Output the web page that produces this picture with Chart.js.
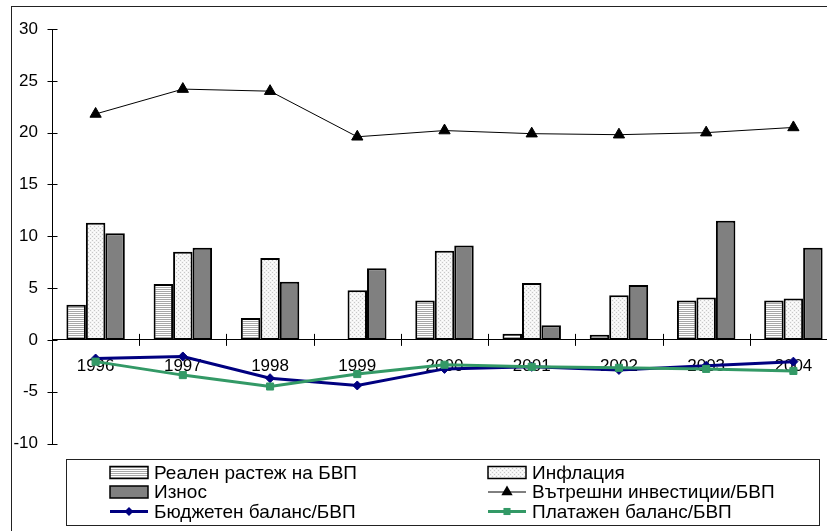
<!DOCTYPE html>
<html><head><meta charset="utf-8">
<script src="https://cdn.jsdelivr.net/npm/chart.js@4.4.0/dist/chart.umd.min.js"></script>
<style>
html,body{margin:0;padding:0;overflow:hidden;background:#fff;width:827px;height:531px;}
#wrap{position:relative;width:860px;height:531px;}
canvas{display:block;}
</style></head><body>
<div id="wrap"><canvas id="c" width="860" height="531"></canvas></div>
<script>
const years = ['1996','1997','1998','1999','2000','2001','2002','2003','2004'];
const realGrowth = [3.4, 5.4, 2.1, null, 3.8, 0.6, 0.5, 3.8, 3.8];
const inflation = [11.3, 8.5, 7.9, 4.8, 8.6, 5.5, 4.3, 4.1, 4.0];
const exportsShare = [10.3, 8.9, 5.6, 6.9, 9.1, 1.4, 5.3, 11.5, 8.9];
const investment = [21.8, 24.2, 24.0, 19.6, 20.2, 19.9, 19.8, 20.0, 20.5];
const budgetBalance = [-1.8, -1.6, -3.7, -4.4, -2.8, -2.6, -2.9, -2.5, -2.1];
const currentAccount = [-2.1, -3.4, -4.5, -3.3, -2.4, -2.6, -2.7, -2.8, -3.0];
const yTicks = [-10, -5, 0, 5, 10, 15, 20, 25, 30];

const labels = {
  real: 'Реален растеж на БВП',
  infl: 'Инфлация',
  exp: 'Износ',
  inv: 'Вътрешни инвестиции/БВП',
  bud: 'Бюджетен баланс/БВП',
  ca: 'Платажен баланс/БВП'
};

const FONT = "'Liberation Sans', Arial, sans-serif";

function makePattern(w, h, draw) {
  const c = document.createElement('canvas');
  c.width = w; c.height = h;
  const g = c.getContext('2d');
  draw(g);
  return document.getElementById('c').getContext('2d').createPattern(c, 'repeat');
}
const stripePat = makePattern(4, 2, g => {
  g.fillStyle = '#ffffff'; g.fillRect(0, 0, 4, 2);
  g.fillStyle = '#a8a8a8'; g.fillRect(0, 1, 4, 1);
});
const dotPat = makePattern(4, 4, g => {
  g.fillStyle = '#f4f4f4'; g.fillRect(0, 0, 4, 4);
  g.fillStyle = '#c8c8c8';
  g.fillRect(0, 0, 1, 1); g.fillRect(2, 2, 1, 1);
  g.fillStyle = '#ffffff';
  g.fillRect(2, 0, 1, 1); g.fillRect(0, 2, 1, 1);
});

function drawMarker(ctx, style, r, x, y) {
  ctx.save();
  ctx.beginPath();
  if (style === 'triangle') {
    ctx.moveTo(x, y - r); ctx.lineTo(x + r * 0.87, y + r * 0.5); ctx.lineTo(x - r * 0.87, y + r * 0.5);
  } else if (style === 'rectRot') {
    ctx.moveTo(x, y - r); ctx.lineTo(x + r, y); ctx.lineTo(x, y + r); ctx.lineTo(x - r, y);
  } else {
    const s = r * Math.SQRT1_2;
    ctx.rect(x - s, y - s, 2 * s, 2 * s);
  }
  ctx.closePath();
  ctx.fill();
  ctx.restore();
}

const decor = {
  id: 'decor',
  beforeDraw(chart) {
    const ctx = chart.ctx;
    ctx.save();
    ctx.fillStyle = '#fff';
    ctx.fillRect(0, 0, chart.width, chart.height);
    ctx.strokeStyle = '#222';
    ctx.lineWidth = 1;
    ctx.strokeRect(11.5, 6.5, chart.width + 20, chart.height + 20);
    ctx.restore();
  },
  beforeDatasetsDraw(chart) {
    const ctx = chart.ctx;
    const xs = chart.scales.x, ys = chart.scales.y;
    ctx.save();
    ctx.strokeStyle = '#000';
    ctx.lineWidth = 1;
    ctx.beginPath();
    const ax = Math.round(xs.left) + 0.5;
    ys.ticks.forEach(t => {
      const py = Math.round(ys.getPixelForValue(t.value)) + 0.5;
      ctx.moveTo(ax - 5, py); ctx.lineTo(ax + 5, py);
    });
    const zy = ys.getPixelForValue(0);
    const n = xs.getLabels().length;
    const w = xs.width / n;
    for (let i = 1; i <= n; i++) {
      const px = Math.round(xs.left + i * w) + 0.5;
      ctx.moveTo(px, zy - 6); ctx.lineTo(px, zy + 6);
    }
    ctx.stroke();
    ctx.restore();
  },
  afterDraw(chart) {
    const ctx = chart.ctx;
    ctx.save();
    ctx.strokeStyle = '#222';
    ctx.lineWidth = 1;
    ctx.strokeRect(66.5, 459.5, 753, 66);
    const ds = chart.data.datasets;
    const cols = [110, 488];
    const rows = [472.5, 492, 511.5];
    ctx.font = '19px ' + FONT;
    ctx.textBaseline = 'middle';
    ds.forEach((d, i) => {
      const cx = cols[i % 2], cy = rows[Math.floor(i / 2)];
      const sw = 38;
      if (d.type === 'bar') {
        ctx.fillStyle = d.backgroundColor;
        ctx.fillRect(cx, cy - 6, sw, 12);
        ctx.strokeStyle = '#000';
        ctx.lineWidth = 1.5;
        ctx.strokeRect(cx, cy - 6, sw, 12);
      } else {
        ctx.strokeStyle = d.borderColor;
        ctx.lineWidth = d.borderWidth;
        ctx.beginPath();
        ctx.moveTo(cx, cy); ctx.lineTo(cx + sw, cy);
        ctx.stroke();
        ctx.fillStyle = d.pointBackgroundColor;
        drawMarker(ctx, d.pointStyle, d.pointRadius, cx + sw / 2, cy);
      }
      ctx.fillStyle = '#000';
      ctx.fillText(d.label, cx + sw + 6, cy + 1);
    });
    ctx.restore();
  }
};

const barCommon = { type: 'bar', borderColor: '#000', borderWidth: 2, borderSkipped: false, categoryPercentage: 0.67, barPercentage: 1, order: 3 };

new Chart(document.getElementById('c'), {
  data: {
    labels: years,
    datasets: [
      Object.assign({}, barCommon, { label: labels.real, data: realGrowth, backgroundColor: stripePat }),
      Object.assign({}, barCommon, { label: labels.infl, data: inflation, backgroundColor: dotPat }),
      Object.assign({}, barCommon, { label: labels.exp, data: exportsShare, backgroundColor: '#808080' }),
      { type: 'line', label: labels.inv, data: investment, borderColor: '#000', borderWidth: 1,
        pointStyle: 'triangle', pointRadius: 6.5, pointBackgroundColor: '#000', pointBorderColor: '#000', pointBorderWidth: 1, order: 1 },
      { type: 'line', label: labels.bud, data: budgetBalance, borderColor: '#000080', borderWidth: 3,
        pointStyle: 'rectRot', pointRadius: 4.5, pointBackgroundColor: '#000080', pointBorderColor: '#000080', pointBorderWidth: 1, order: 1 },
      { type: 'line', label: labels.ca, data: currentAccount, borderColor: '#339966', borderWidth: 3,
        pointStyle: 'rect', pointRadius: 5, pointBackgroundColor: '#339966', pointBorderColor: '#339966', pointBorderWidth: 1, order: 0 }
    ]
  },
  options: {
    responsive: false,
    animation: false,
    devicePixelRatio: 1,
    layout: { padding: { left: 0, right: 23, top: 29, bottom: 87.5 } },
    plugins: { legend: { display: false }, tooltip: { enabled: false } },
    elements: { line: { tension: 0 } },
    scales: {
      x: {
        type: 'category',
        position: { y: 0 },
        offset: true,
        grid: { display: false, drawTicks: false, offset: true },
        border: { display: true, color: '#000', width: 1 },
        ticks: { color: '#000', font: { family: FONT, size: 17 }, padding: 16, maxRotation: 0, autoSkip: false }
      },
      y: {
        type: 'linear',
        min: -10, max: 30,
        afterBuildTicks(scale) { scale.ticks = yTicks.map(v => ({ value: v })); },
        afterFit(scale) { scale.width = 52; },
        grid: { display: false, drawTicks: false },
        border: { display: true, color: '#000', width: 1 },
        ticks: { color: '#000', font: { family: FONT, size: 17 }, padding: 14 }
      }
    }
  },
  plugins: [decor]
});
</script>
</body></html>
